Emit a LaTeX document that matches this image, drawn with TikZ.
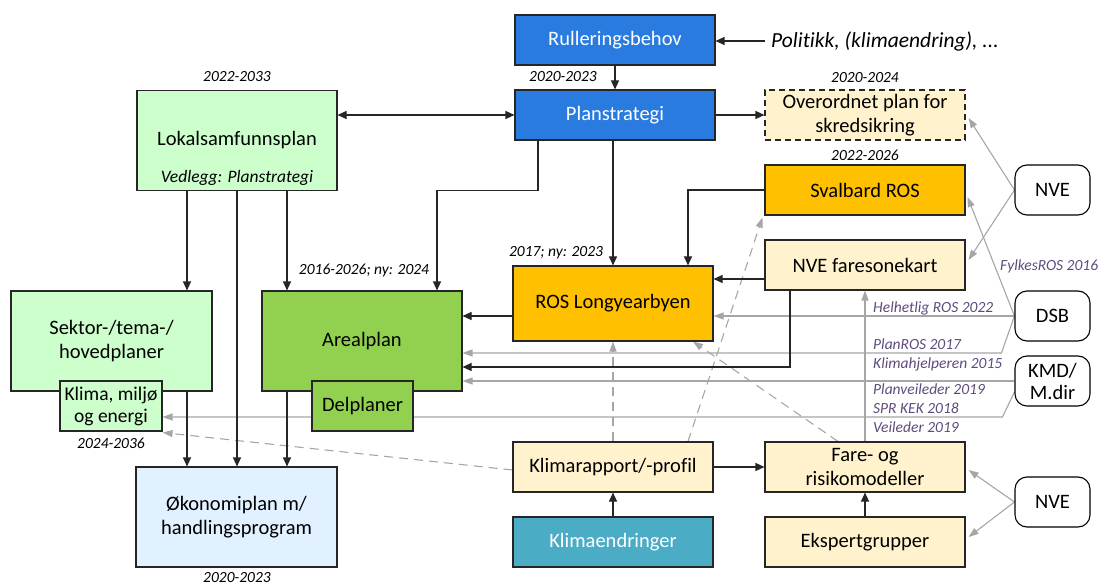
\documentclass[tikz,border=0pt]{standalone}
\usepackage{fontspec}
\setmainfont{Carlito}[Ligatures=CommonOff]
\usetikzlibrary{arrows.meta,calc,backgrounds}
\definecolor{bluebox}{HTML}{2A7BE0}
\definecolor{lgreen}{HTML}{CCFFCC}
\definecolor{dgreen}{HTML}{92D050}
\definecolor{orangeb}{HTML}{FFC000}
\definecolor{cream}{HTML}{FFF2CC}
\definecolor{lblue}{HTML}{E1F1FF}
\definecolor{tealb}{HTML}{4BACC6}
\definecolor{purp}{HTML}{5F4B7D}
\definecolor{grayl}{HTML}{A6A6A6}
\tikzset{
  box/.style={draw=black!85, line width=1.1pt, minimum width=200pt, minimum height=50pt,
    inner sep=2pt, align=center, font=\fontsize{20.5}{24}\selectfont},
  rbox/.style={draw=black, line width=1.1pt, rounded corners=12pt, minimum width=75pt,
    minimum height=50pt, inner sep=1pt, fill=white, align=center, font=\fontsize{20.5}{22}\selectfont},
  yr/.style={inner sep=0pt, font=\fontsize{15.5}{18}\selectfont\itshape},
  lbl/.style={inner sep=0pt, anchor=west, text=purp, font=\fontsize{15.5}{18}\selectfont\itshape},
  arr/.style={-{Triangle[length=9pt,width=8pt]}, line width=1.1pt, draw=black!85},
  darr/.style={{Triangle[length=9pt,width=8pt]}-{Triangle[length=9pt,width=8pt]}, line width=1.1pt, draw=black!85},
  garr/.style={-{Triangle[length=10pt,width=7pt]}, line width=1.1pt, draw=grayl},
  gdash/.style={garr, dash pattern=on 9pt off 6pt},
}
\begin{document}
\begin{tikzpicture}[x=1pt,y=-1pt]
\useasboundingbox (0,0) rectangle (1105,585);

% boxes
\node[box,fill=bluebox,text=white] (rul) at (615,40) {Rulleringsbehov};
\node[box,fill=bluebox,text=white] (pla) at (615,115) {Planstrategi};
\node[box,fill=cream,dash pattern=on 6pt off 4pt] (ovp) at (865,115) {Overordnet plan for\\skredsikring};
\node[box,fill=orangeb] (sva) at (865,190) {Svalbard ROS};
\node[box,fill=cream] (nfk) at (865,265) {NVE faresonekart};
\node[box,fill=orangeb,minimum height=75pt] (ros) at (613,303.5) {ROS Longyearbyen};
\node[box,fill=lgreen,minimum height=100pt] (lok) at (237,140.5) {};
\node[inner sep=0pt,font=\fontsize{20.5}{24}\selectfont] (lokt) at (237,140) {Lokalsamfunnsplan};
\node[inner sep=0pt,font=\fontsize{17.5}{20}\selectfont\itshape] (lokv) at (237,178) {Vedlegg: Planstrategi};
\node[box,fill=lgreen,minimum width=201pt,minimum height=100pt] (sek) at (111.5,341) {Sektor-/tema-/\\hovedplaner};
\node[box,fill=lgreen,minimum width=102pt,inner sep=0pt,font=\fontsize{19.5}{22}\selectfont] (kme) at (111,406) {Klima, miljø\\og energi};
\node[box,fill=dgreen,minimum height=100pt] (are) at (362,341) {Arealplan};
\node[box,fill=dgreen,minimum width=101pt] (del) at (362.5,406) {Delplaner};
\node[box,fill=lblue,minimum width=201pt,minimum height=100pt] (oko) at (236.5,517) {Økonomiplan m/\\handlingsprogram};
\node[box,fill=cream] (kra) at (613,467) {Klimarapport/-profil};
\node[box,fill=tealb,text=white] (ken) at (613,542) {Klimaendringer};
\node[box,fill=cream] (far) at (865,467) {Fare- og\\risikomodeller};
\node[box,fill=cream] (eks) at (865,542) {Ekspertgrupper};
\node[rbox] (nve1) at (1052.5,190) {NVE};
\node[rbox] (dsb) at (1052.5,316) {DSB};
\node[rbox] (kmd) at (1052.5,381) {KMD/\\M.dir};
\node[rbox] (nve2) at (1052.5,502) {NVE};
\node[anchor=west,inner sep=0pt,font=\fontsize{21.5}{24}\selectfont\itshape] (pol) at (771,41) {Politikk, (klimaendring), ...};

% year labels
\node[yr] (y1) at (563,77) {2020-2023};
\node[yr] (y2) at (237,77) {2022-2033};
\node[yr] (y3) at (865,78) {2020-2024};
\node[yr] (y4) at (865,155) {2022-2026};
\node[yr] (y5) at (556,253) {2017; ny: 2023};
\node[yr] (y6) at (364,271) {2016-2026; ny: 2024};
\node[yr] (y7) at (111,443) {2024-2036};
\node[yr] (y8) at (237,578) {2020-2023};

% purple labels
\node[lbl] (t1) at (1000,266) {FylkesROS 2016};
\node[lbl] (t2) at (873,308) {Helhetlig ROS 2022};
\node[lbl] (t3) at (873,344) {PlanROS 2017};
\node[lbl] (t4) at (873,364) {Klimahjelperen 2015};
\node[lbl] (t5) at (873,389) {Planveileder 2019};
\node[lbl] (t6) at (873,408) {SPR KEK 2018};
\node[lbl] (t7) at (873,427) {Veileder 2019};

\begin{scope}[on background layer]
% gray solid
\draw[garr] (nve1.west) -- ($(ovp.east)+(3,3)$);
\draw[garr] (nve1.west) -- ($(nfk.east)+(3,-5)$);
\draw[garr] (dsb.west) -- ($(sva.east)+(2,7)$);
\draw[garr] (dsb.west) -- (dsb.west -| ros.east);
\coordinate (d1) at ($(dsb.west)+(-13,37)$);
\draw[garr] (dsb.west) -- (d1) -- (d1 -| are.east);
\draw[garr] (kmd.west) -- (kmd.west -| are.east);
\coordinate (k1) at ($(kmd.west)+(0,11)$);
\coordinate (k2) at ($(k1)+(-12,25)$);
\draw[garr] (k1) -- (k2) -- (k2 -| kme.east);
\draw[garr] (far.north) -- (far.north |- nfk.south);
\draw[garr] (nve2.west) -- ($(far.east)+(3,3)$);
\draw[garr] (nve2.west) -- ($(eks.east)+(3,-5)$);
% gray dashed
\draw[gdash] (kra.north) -- (kra.north |- ros.south);
\draw[gdash] ($(kra.north)+(75,0)$) -- ($(sva.south west)+(-2,2)$);
\draw[gdash] ($(far.north)+(-27,0)$) -- ($(ros.south)+(80,0)$);
\draw[gdash] ($(kra.west)+(0,3)$) -- ($(kme.south east)+(0,1)$);
% black
\coordinate (p0) at ($(pol.west)+(-6,0)$);
\draw[arr] (p0) -- (p0 -| rul.east);
\draw[arr] (rul.south) -- (pla.north);
\coordinate (a1) at ($(lok.east)+(0,-25.5)$);
\draw[darr] (a1) -- (a1 -| pla.west);
\draw[arr] (pla.east) -- (ovp.west);
\draw[arr] (ros.north |- pla.south) -- (ros.north);
\coordinate (a2) at ($(pla.south)+(-77,0)$);
\coordinate (a3) at ($(are.north)+(75,0)$);
\draw[arr] (a2) -- ++(0,50) -| (a3);
\coordinate (l1) at ($(lok.south)+(-50,0)$);
\coordinate (l2) at ($(lok.south)+(50,0)$);
\draw[arr] (l1) -- (l1 |- sek.north);
\draw[arr] (l2) -- (l2 |- are.north);
\draw[arr] (lok.south) -- (lok.south |- oko.north);
\draw[arr] (l1 |- sek.south) -- (l1 |- oko.north);
\draw[arr] (l2 |- are.south) -- (l2 |- oko.north);
\coordinate (r1) at ($(ros.north)+(75,0)$);
\draw[arr] (sva.west) -| (r1);
\coordinate (n1) at ($(nfk.west)+(0,14)$);
\draw[arr] (n1) -- (n1 -| ros.east);
\coordinate (n2) at ($(nfk.south)+(-75,0)$);
\coordinate (n3) at ($(are.east)+(0,26)$);
\draw[arr] (n2) |- (n3);
\coordinate (r2) at ($(ros.west)+(0,12.5)$);
\draw[arr] (r2) -- (r2 -| are.east);
\draw[arr] (ken.north) -- (kra.south);
\draw[arr] (kra.east) -- (far.west);
\draw[arr] (eks.north) -- (far.south);
\end{scope}
\end{tikzpicture}
\end{document}
